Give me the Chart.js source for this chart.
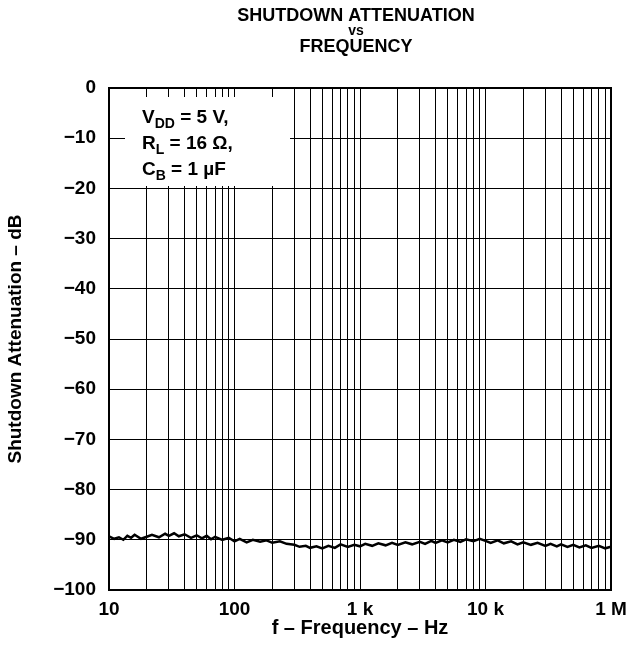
<!DOCTYPE html>
<html>
<head>
<meta charset="utf-8">
<script src="https://cdn.jsdelivr.net/npm/chart.js@4"></script>
<style>
  body { margin: 0; background: #fff; }
  #wrap { width: 640px; height: 656px; }
</style>
</head>
<body>
<div id="wrap"><canvas id="chart" width="640" height="656"></canvas></div>
<script>
// ===== DATA =====
const freqHz = [10, 11, 12, 13, 14, 15, 16, 18, 20, 22, 25, 28, 30, 33, 36, 40, 45, 50, 55, 60, 65, 70, 80, 90,
  100, 110, 125, 140, 160, 180, 200, 230, 260, 300, 330, 370, 400, 450, 500, 560, 630, 700, 800, 900,
  1000, 1100, 1250, 1400, 1600, 1800, 2000, 2300, 2600, 3000, 3300, 3700, 4000, 4500, 5000, 5600, 6300, 7000, 8000, 9000,
  10000, 11000, 12500, 14000, 16000, 18000, 20000, 23000, 26000, 30000, 33000, 37000, 40000, 45000, 50000, 56000, 63000, 70000, 80000, 90000, 100000];
const attenDb = [-89.3, -89.8, -89.5, -90.0, -89.2, -89.6, -89.0, -89.8, -89.4, -89.0, -89.5, -88.8, -89.2, -88.7, -89.3, -88.9, -89.6, -89.1, -89.7, -89.2, -89.9, -89.4, -90.0, -89.6,
  -90.3, -89.8, -90.5, -90.0, -90.4, -90.1, -90.6, -90.3, -90.8, -91.0, -91.4, -91.2, -91.6, -91.3, -91.7, -91.2, -91.6, -90.9, -91.4, -91.0,
  -91.3, -90.8, -91.2, -90.7, -91.1, -90.6, -91.0, -90.5, -90.9, -90.4, -90.8, -90.2, -90.6, -90.1, -90.5, -90.0, -90.4, -89.9, -90.3, -89.8,
  -90.2, -90.6, -90.1, -90.7, -90.3, -90.9, -90.5, -91.0, -90.6, -91.2, -90.8, -91.3, -90.9, -91.4, -91.0, -91.5, -91.1, -91.6, -91.2, -91.7, -91.4];

// x tick labels as printed on the chart (the last one reads "1 M")
const xTickValues = [10, 100, 1000, 10000, 100000];
const xTickLabels = ['10', '100', '1 k', '10 k', '1 M'];
const yMin = -100, yMax = 0, yStep = 10;

const FONT = '"Liberation Sans", Arial, Helvetica, sans-serif';

// all 1..9 x 10^n grid positions
const gridValues = [];
for (let d = 10; d < 100000; d *= 10) {
  for (let m = 1; m < 10; m++) gridValues.push(d * m);
}
gridValues.push(100000);

// ===== PLUGINS: title, annotation box, frame =====
const decorPlugin = {
  id: 'decor',
  beforeDatasetsDraw(chart) {
    const ctx = chart.ctx;
    ctx.save();
    // white box behind the conditions text
    ctx.fillStyle = '#fff';
    ctx.fillRect(125, 97, 165, 89);

    ctx.fillStyle = '#000';
    ctx.textBaseline = 'alphabetic';
    ctx.textAlign = 'left';
    const lines = [
      ['V', 'DD', ' = 5 V,'],
      ['R', 'L', ' = 16 \u03A9,'],
      ['C', 'B', ' = 1 \u00B5F']
    ];
    let y = 123;
    lines.forEach(([main, sub, rest]) => {
      let x = 142;
      ctx.font = 'bold 19px ' + FONT;
      ctx.fillText(main, x, y);
      x += ctx.measureText(main).width;
      ctx.font = 'bold 14px ' + FONT;
      ctx.fillText(sub, x, y + 5);
      x += ctx.measureText(sub).width;
      ctx.font = 'bold 19px ' + FONT;
      ctx.fillText(rest, x, y);
      y += 26;
    });
    ctx.restore();
  },
  afterDraw(chart) {
    const ctx = chart.ctx;
    const a = chart.chartArea;
    ctx.save();
    ctx.strokeStyle = '#000';
    ctx.lineWidth = 2;
    ctx.strokeRect(a.left, a.top, a.right - a.left, a.bottom - a.top);

    // title
    ctx.fillStyle = '#000';
    ctx.textAlign = 'center';
    ctx.textBaseline = 'middle';
    ctx.font = 'bold 18px ' + FONT;
    ctx.fillText('SHUTDOWN ATTENUATION', 356, 16);
    ctx.font = 'bold 14px ' + FONT;
    ctx.fillText('vs', 356, 31);
    ctx.font = 'bold 18px ' + FONT;
    ctx.fillText('FREQUENCY', 356, 47);
    ctx.restore();
  }
};

// ===== CHART =====
const ctx = document.getElementById('chart').getContext('2d');
new Chart(ctx, {
  type: 'line',
  data: {
    datasets: [{
      data: freqHz.map((f, i) => ({ x: f, y: attenDb[i] })),
      borderColor: '#000',
      borderWidth: 2.5,
      pointRadius: 0,
      tension: 0,
      fill: false
    }]
  },
  options: {
    responsive: false,
    animation: false,
    layout: { padding: { top: 88, right: 29, left: 0, bottom: 0 } },
    plugins: {
      legend: { display: false },
      tooltip: { enabled: false },
      title: { display: false }
    },
    scales: {
      x: {
        type: 'logarithmic',
        min: 10,
        max: 100000,
        afterBuildTicks: s => { s.ticks = gridValues.map(v => ({ value: v })); },
        afterFit: s => { s.height = 66; },
        border: { display: false },
        grid: { color: '#000', lineWidth: 1, drawTicks: false },
        ticks: {
          autoSkip: false,
          maxRotation: 0,
          padding: 8,
          color: '#000',
          font: { family: FONT, size: 19, weight: 'bold' },
          callback: v => {
            const i = xTickValues.indexOf(v);
            return i >= 0 ? xTickLabels[i] : '';
          }
        },
        title: {
          display: true,
          text: 'f \u2013 Frequency \u2013 Hz',
          color: '#000',
          font: { family: FONT, size: 20, weight: 'bold' },
          padding: { top: 0, bottom: 16 }
        }
      },
      y: {
        min: yMin,
        max: yMax,
        afterFit: s => { s.width = 109; },
        border: { display: false },
        grid: { color: '#000', lineWidth: 1, drawTicks: false },
        ticks: {
          stepSize: yStep,
          padding: 13,
          color: '#000',
          font: { family: FONT, size: 19, weight: 'bold' },
          callback: v => String(v).replace('-', '\u2212')
        },
        title: {
          display: true,
          text: 'Shutdown Attenuation \u2013 dB',
          color: '#000',
          font: { family: FONT, size: 19, weight: 'bold' },
          padding: { top: 4, bottom: 0 }
        }
      }
    }
  },
  plugins: [decorPlugin]
});
</script>
</body>
</html>
